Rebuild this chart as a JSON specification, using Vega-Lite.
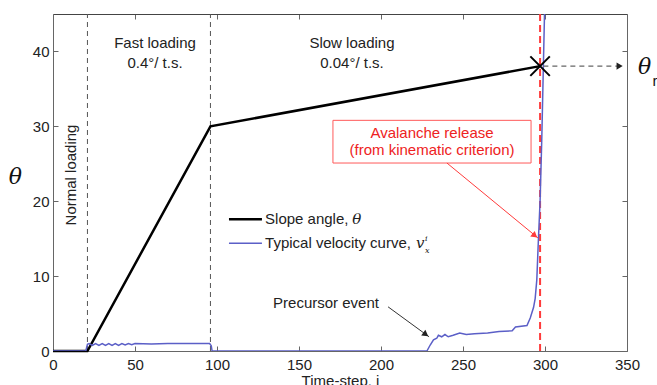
{
  "$schema": "https://vega.github.io/schema/vega-lite/v6.json",
  "width": 574,
  "height": 337,
  "autosize": "none",
  "padding": {"left": 53, "top": 14, "right": 30, "bottom": 34},
  "background": "white",
  "config": {"view": {"stroke": null}, "font": "Liberation Sans"},
  "datasets": {
    "vlines": [{"x": 21, "y": 0, "y2": 45}, {"x": 96, "y": 0, "y2": 45}],
    "redline": [{"x": 297, "y": 0, "y2": 45}],
    "theta": [{"x": 0, "y": 0}, {"x": 21, "y": 0}, {"x": 96, "y": 30}, {"x": 297, "y": 38.04}],
    "vel": [
      {"x": 0, "y": 0}, {"x": 20, "y": 0}, {"x": 21, "y": 0.9}, {"x": 22, "y": 1.0}, {"x": 24, "y": 0.75},
      {"x": 26, "y": 1.0}, {"x": 28, "y": 0.75}, {"x": 30, "y": 1.0}, {"x": 32, "y": 0.75}, {"x": 34, "y": 1.0},
      {"x": 36, "y": 0.75}, {"x": 38, "y": 1.0}, {"x": 40, "y": 0.75}, {"x": 42, "y": 1.0}, {"x": 44, "y": 0.8},
      {"x": 46, "y": 1.0}, {"x": 48, "y": 0.85}, {"x": 50, "y": 1.0}, {"x": 60, "y": 0.95}, {"x": 70, "y": 1.0},
      {"x": 80, "y": 1.0}, {"x": 95.5, "y": 1.0}, {"x": 96.5, "y": 0.7}, {"x": 97, "y": 0}, {"x": 228, "y": 0},
      {"x": 230, "y": 0.8}, {"x": 232, "y": 1.5}, {"x": 234, "y": 1.7}, {"x": 235, "y": 2.1}, {"x": 237, "y": 1.9},
      {"x": 239, "y": 2.2}, {"x": 241, "y": 1.9}, {"x": 244, "y": 2.1}, {"x": 248, "y": 2.4}, {"x": 252, "y": 2.2},
      {"x": 257, "y": 2.3}, {"x": 265, "y": 2.4}, {"x": 272, "y": 2.6}, {"x": 280, "y": 2.7}, {"x": 282, "y": 3.2},
      {"x": 289, "y": 3.4}, {"x": 291, "y": 4.4}, {"x": 293, "y": 5.8}, {"x": 294, "y": 7}, {"x": 295, "y": 9.5},
      {"x": 296, "y": 15}, {"x": 297, "y": 20}, {"x": 298, "y": 28}, {"x": 299, "y": 38}, {"x": 300, "y": 48}
    ],
    "legBlack": [{"x": 107.3, "x2": 127.4, "y": 17.6}],
    "legBlue": [{"x": 107.3, "x2": 127.4, "y": 14.4}],
    "centerTexts": [
      {"x": 62.2, "y": 41.1, "label": "Fast loading"},
      {"x": 62.2, "y": 38.5, "label": "0.4°/ t.s."},
      {"x": 182.3, "y": 41.1, "label": "Slow loading"},
      {"x": 182.3, "y": 38.5, "label": "0.04°/ t.s."}
    ],
    "leftTexts": [
      {"x": 129.3, "y": 17.6, "label": "Slope angle,"},
      {"x": 129.3, "y": 14.4, "label": "Typical velocity curve,"},
      {"x": 134.2, "y": 6.4, "label": "Precursor event"}
    ],
    "rotText": [{"x": 11, "y": 23.5, "label": "Normal loading"}],
    "redTexts": [
      {"x": 231.1, "y": 29.1, "label": "Avalanche release"},
      {"x": 231.1, "y": 26.8, "label": "(from kinematic criterion)"}
    ],
    "redBox": [{"x": 170.7, "x2": 291.5, "y": 30.8, "y2": 25.1}],
    "legItalic": [{"x": 182.5, "y": 17.6, "label": "θ"}, {"x": 221.3, "y": 14.4, "label": "v"}],
    "legSmall": [{"x": 226.8, "y": 14.9, "label": "i"}, {"x": 226.8, "y": 13.4, "label": "x"}],
    "bigTheta": [{"x": -22.9, "y": 23.3, "label": "θ"}, {"x": 360.7, "y": 37.9, "label": "θ"}],
    "subR": [{"x": 367, "y": 36.1, "label": "r"}],
    "blackArrow": [{"x": 204.3, "y": 5.9, "x2": 229.3, "y2": 1.9}],
    "redArrow": [{"x": 240.2, "y": 25.1, "x2": 295.7, "y2": 15.1}],
    "grayArrow": [{"x": 299, "y": 38.04, "x2": 347, "y2": 38.04}],
    "blackHeads": [{"x": 227.3, "y": 2.2, "angle": 36}, {"x": 345.5, "y": 38.04, "angle": 0}],
    "redHeads": [{"x": 293.8, "y": 15.4, "angle": 39.5}],
    "xmark": [{"x": 297, "y": 38.04}]
  },
  "encoding": {
    "x": {"field": "x", "type": "quantitative", "scale": {"domain": [0, 350], "nice": false, "zero": false}, "axis": null},
    "y": {"field": "y", "type": "quantitative", "scale": {"domain": [0, 45], "nice": false, "zero": false}, "axis": null}
  },
  "layer": [
    {
      "data": {"name": "vlines"},
      "mark": {"type": "rule", "color": "#555", "strokeWidth": 1, "strokeDash": [5, 4]},
      "encoding": {"y2": {"field": "y2"}}
    },
    {
      "data": {"name": "redline"},
      "mark": {"type": "rule", "color": "#ff3b3b", "strokeWidth": 2, "strokeDash": [7, 4]},
      "encoding": {"y2": {"field": "y2"}}
    },
    {
      "data": {"name": "theta"},
      "mark": {"type": "line", "color": "black", "strokeWidth": 2.5},
      "encoding": {
        "x": {"field": "x", "type": "quantitative", "scale": {"domain": [0, 350], "nice": false, "zero": false},
          "axis": {"orient": "bottom", "values": [0, 50, 100, 150, 200, 250, 300, 350], "title": "Time-step, i",
            "labelFontSize": 15, "labelColor": "#222", "titleFontSize": 15, "titleFontWeight": "normal", "titleColor": "#222",
            "titlePadding": 1, "domainColor": "#666", "tickColor": "#666", "tickSize": -5, "labelPadding": 11, "grid": false, "labelFlush": false}},
        "y": {"field": "y", "type": "quantitative", "scale": {"domain": [0, 45], "nice": false, "zero": false},
          "axis": {"orient": "left", "values": [0, 10, 20, 30, 40], "title": null,
            "labelFontSize": 15, "labelColor": "#222", "domainColor": "#666", "tickColor": "#666", "tickSize": -5, "labelPadding": 9, "grid": false, "labelFlush": false}}
      }
    },
    {
      "data": {"name": "vel"},
      "mark": {"type": "line", "color": "#5b5fc7", "strokeWidth": 1.5, "clip": true},
      "encoding": {
        "x": {"field": "x", "type": "quantitative", "scale": {"domain": [0, 350], "nice": false, "zero": false},
          "axis": {"orient": "top", "values": [0, 50, 100, 150, 200, 250, 300, 350], "title": null, "labels": false,
            "domainColor": "#444", "tickColor": "#666", "tickSize": -5, "grid": false}},
        "y": {"field": "y", "type": "quantitative", "scale": {"domain": [0, 45], "nice": false, "zero": false},
          "axis": {"orient": "right", "values": [0, 10, 20, 30, 40], "title": null, "labels": false,
            "domainColor": "#666", "tickColor": "#666", "tickSize": -5, "grid": false}}
      }
    },
    {
      "data": {"name": "legBlack"},
      "mark": {"type": "rule", "color": "black", "strokeWidth": 2.5},
      "encoding": {"x2": {"field": "x2"}}
    },
    {
      "data": {"name": "legBlue"},
      "mark": {"type": "rule", "color": "#5b5fc7", "strokeWidth": 1.5},
      "encoding": {"x2": {"field": "x2"}}
    },
    {
      "data": {"name": "redBox"},
      "mark": {"type": "rect", "fill": "white", "stroke": "#ff5a5a", "strokeWidth": 1},
      "encoding": {"x2": {"field": "x2"}, "y2": {"field": "y2"}}
    },
    {
      "data": {"name": "blackArrow"},
      "mark": {"type": "rule", "color": "#333", "strokeWidth": 1},
      "encoding": {"x2": {"field": "x2"}, "y2": {"field": "y2"}}
    },
    {
      "data": {"name": "redArrow"},
      "mark": {"type": "rule", "color": "#ff3b3b", "strokeWidth": 1},
      "encoding": {"x2": {"field": "x2"}, "y2": {"field": "y2"}}
    },
    {
      "data": {"name": "grayArrow"},
      "mark": {"type": "rule", "color": "#666", "strokeWidth": 1.2, "strokeDash": [5, 4]},
      "encoding": {"x2": {"field": "x2"}, "y2": {"field": "y2"}}
    },
    {
      "data": {"name": "blackHeads"},
      "mark": {"type": "point", "shape": "triangle-right", "filled": true, "color": "#222", "size": 50, "opacity": 1},
      "encoding": {"angle": {"field": "angle", "type": "quantitative", "scale": null}}
    },
    {
      "data": {"name": "redHeads"},
      "mark": {"type": "point", "shape": "triangle-right", "filled": true, "color": "#ff3b3b", "size": 50, "opacity": 1},
      "encoding": {"angle": {"field": "angle", "type": "quantitative", "scale": null}}
    },
    {
      "data": {"name": "xmark"},
      "mark": {"type": "point", "shape": "M-1,-1L1,1M-1,1L1,-1", "filled": false, "color": "black", "strokeWidth": 2, "size": 380, "opacity": 1}
    },
    {
      "data": {"name": "centerTexts"},
      "mark": {"type": "text", "fontSize": 15, "color": "#222", "align": "center", "baseline": "middle"},
      "encoding": {"text": {"field": "label"}}
    },
    {
      "data": {"name": "leftTexts"},
      "mark": {"type": "text", "fontSize": 15, "color": "#222", "align": "left", "baseline": "middle"},
      "encoding": {"text": {"field": "label"}}
    },
    {
      "data": {"name": "rotText"},
      "mark": {"type": "text", "fontSize": 15, "color": "#222", "align": "center", "baseline": "middle", "angle": 270},
      "encoding": {"text": {"field": "label"}}
    },
    {
      "data": {"name": "redTexts"},
      "mark": {"type": "text", "fontSize": 15, "color": "#ee2222", "align": "center", "baseline": "middle"},
      "encoding": {"text": {"field": "label"}}
    },
    {
      "data": {"name": "legItalic"},
      "mark": {"type": "text", "fontSize": 15, "font": "DejaVu Serif", "fontStyle": "italic", "color": "#222", "align": "left", "baseline": "middle"},
      "encoding": {"text": {"field": "label"}}
    },
    {
      "data": {"name": "legSmall"},
      "mark": {"type": "text", "fontSize": 8, "font": "DejaVu Serif", "fontStyle": "italic", "color": "#222", "align": "left", "baseline": "middle"},
      "encoding": {"text": {"field": "label"}}
    },
    {
      "data": {"name": "bigTheta"},
      "mark": {"type": "text", "fontSize": 22, "font": "DejaVu Serif", "fontStyle": "italic", "color": "#111", "align": "center", "baseline": "middle"},
      "encoding": {"text": {"field": "label"}}
    },
    {
      "data": {"name": "subR"},
      "mark": {"type": "text", "fontSize": 15, "color": "#111", "align": "center", "baseline": "middle"},
      "encoding": {"text": {"field": "label"}}
    }
  ],
  "resolve": {"axis": {"x": "independent", "y": "independent"}}
}
